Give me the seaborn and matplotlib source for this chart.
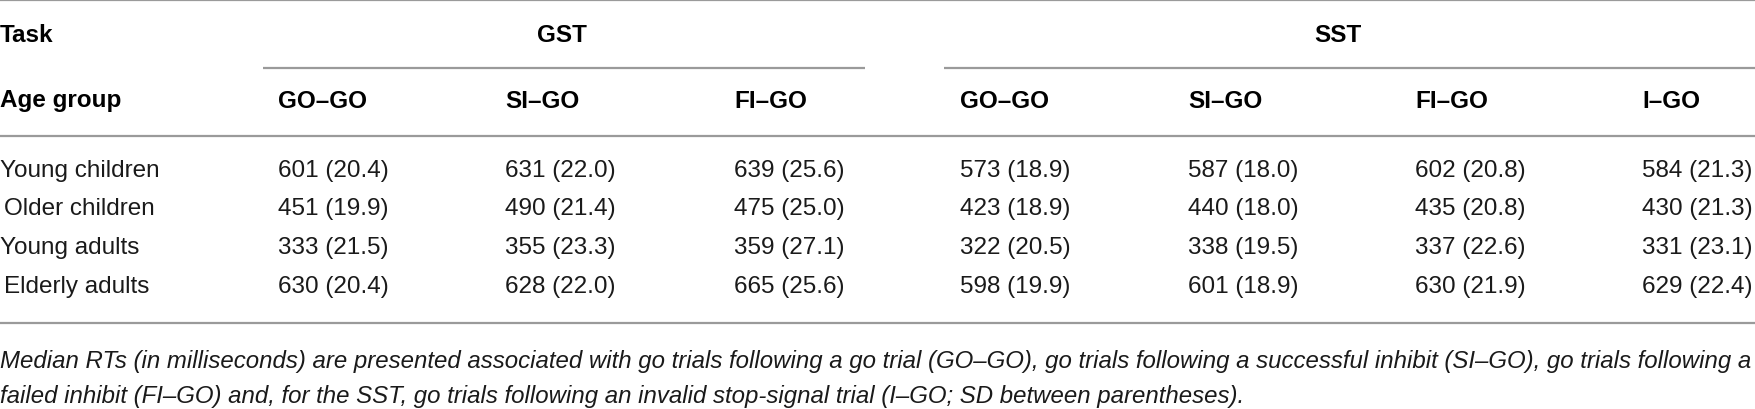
import matplotlib
matplotlib.use("Agg")
import matplotlib.pyplot as plt
import seaborn as sns

# ---- data ----
age_groups = ["Young children", "Older children", "Young adults", "Elderly adults"]
gst_conditions = ["GO–GO", "SI–GO", "FI–GO"]
sst_conditions = ["GO–GO", "SI–GO", "FI–GO", "I–GO"]
gst_median = [[601, 631, 639], [451, 490, 475], [333, 355, 359], [630, 628, 665]]
gst_sd = [[20.4, 22.0, 25.6], [19.9, 21.4, 25.0], [21.5, 23.3, 27.1], [20.4, 22.0, 25.6]]
sst_median = [[573, 587, 602, 584], [423, 440, 435, 430], [322, 338, 337, 331], [598, 601, 630, 629]]
sst_sd = [[18.9, 18.0, 20.8, 21.3], [18.9, 18.0, 20.8, 21.3], [20.5, 19.5, 22.6, 23.1], [19.9, 18.9, 21.9, 22.4]]
task_names = ["GST", "SST"]
footnote = [
    "Median RTs (in milliseconds) are presented associated with go trials following a go trial (GO–GO), "
    "go trials following a successful inhibit (SI–GO), go trials following a",
    "failed inhibit (FI–GO) and, for the SST, go trials following an invalid stop-signal trial (I–GO; SD between parentheses).",
]

# ---- layout ----
sns.set_theme(style="white")
plt.rcParams["font.family"] = ["Liberation Sans", "DejaVu Sans"]
W, H = 1756, 410
fig = plt.figure(figsize=(W / 100, H / 100), dpi=100)
ax = fig.add_axes([0, 0, 1, 1])
ax.set_xlim(0, W)
ax.set_ylim(H, 0)
ax.axis("off")

fs = 17.5
txt_color = "#1a1a1a"
rule_color = "#9a9a9a"
gst_x = [278, 505, 734]
sst_x = [960, 1188, 1415, 1642]
row_y = [171, 209, 248, 287]

# rules
ax.hlines(1.2, 0, W, color=rule_color, lw=1.6)
ax.hlines(69, 263, 865, color=rule_color, lw=1.6)
ax.hlines(69, 944, W, color=rule_color, lw=1.6)
ax.hlines(137, 0, W, color=rule_color, lw=1.6)
ax.hlines(324, 0, W, color=rule_color, lw=1.6)

# header
ax.text(0, 35, "Task", fontsize=fs, fontweight="bold", va="center", ha="left", color="black")
ax.text(562, 35, task_names[0], fontsize=fs, fontweight="bold", va="center", ha="center", color="black")
ax.text(1338, 35, task_names[1], fontsize=fs, fontweight="bold", va="center", ha="center", color="black")
ax.text(0, 101, "Age group", fontsize=fs, fontweight="bold", va="center", ha="left", color="black")
for x, c in zip(gst_x, gst_conditions):
    ax.text(x, 101, c, fontsize=fs, fontweight="bold", va="center", ha="left", color="black")
for x, c in zip(sst_x, sst_conditions):
    ax.text(x, 101, c, fontsize=fs, fontweight="bold", va="center", ha="left", color="black")

# body
indent = [0, 4, 0, 4]
for i, g in enumerate(age_groups):
    y = row_y[i]
    ax.text(indent[i], y, g, fontsize=fs, va="center", ha="left", color=txt_color)
    for j, x in enumerate(gst_x):
        ax.text(x, y, f"{gst_median[i][j]} ({gst_sd[i][j]:.1f})", fontsize=fs,
                va="center", ha="left", color=txt_color)
    for j, x in enumerate(sst_x):
        ax.text(x, y, f"{sst_median[i][j]} ({sst_sd[i][j]:.1f})", fontsize=fs,
                va="center", ha="left", color=txt_color)

# footnote
for k, line in enumerate(footnote):
    ax.text(0, 362 + 35 * k, line, fontsize=17.3, style="italic",
            va="center", ha="left", color=txt_color)

fig.savefig("out.png", dpi=100)
